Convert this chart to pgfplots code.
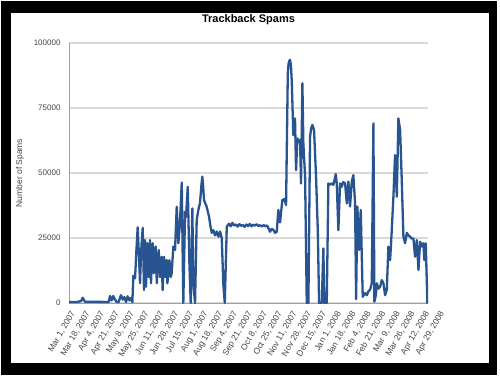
\documentclass[border=0pt]{standalone}
\usepackage{fontspec}
\setmainfont{Liberation Sans}
\usepackage{pgfplots}
\pgfplotsset{compat=1.18}
\definecolor{spamblue}{RGB}{40,84,145}
\definecolor{gridgray}{RGB}{217,217,217}
\definecolor{axisgray}{RGB}{160,160,160}
\definecolor{labelgray}{RGB}{70,70,70}
\begin{document}
\begin{tikzpicture}[x=1bp,y=1bp]
\fill[white] (0,0) rectangle (500,377);
\fill[black] (1,2) rectangle (497,376);
\fill[white] (11,14) rectangle (489,364);
\begin{axis}[at={(69bp,74bp)}, anchor=south west, scale only axis,
  width=359bp, height=260bp, xmin=0, xmax=413, ymin=0, ymax=100000,
  axis lines*=left, axis line style={axisgray, line width=1bp},
  ytick={0,25000,50000,75000,100000}, yticklabels={0,25000,50000,75000,100000},
  scaled y ticks=false, xtick=\empty, major tick length=0pt,
  ymajorgrids, grid style={gridgray, line width=1.2bp},
  yticklabel style={font=\fontsize{8bp}{9bp}\selectfont, text=labelgray, xshift=-5bp},
  /pgf/number format/assume math mode=true,
  title={Trackback Spams},
  title style={at={(axis description cs:0.5,1.065)}, anchor=center, font=\bfseries\fontsize{11bp}{13bp}\selectfont},
  ylabel={Number of Spams},
  ylabel style={at={(axis description cs:-0.1365,0.5)}, anchor=center, font=\fontsize{8.5bp}{10bp}\selectfont, text=labelgray}]
\addplot[spamblue, line width=2.3bp, line join=round, line cap=round] coordinates {
(0,400) (10,400) (14,800) (15.7,2000) (18.4,500) (45.6,400)
(47.2,2700) (49,1000) (51,2700) (52.9,1300) (54.8,400) (57.1,400) (59.8,3000) (61.8,1300) (63.7,2300) (65.6,400) (67.5,2600) (69.5,1000) (71.4,2000) (72.9,300)
(74,10500) (76,9500) (77.5,20000) (79,29100) (80.5,18000) (81.7,7600) (83,20000) (84.8,28900) (86.3,5000) (87.5,24200) (88.6,6300) (90.1,23000) (91.6,10000) (93.2,24200) (94.3,7600) (96.3,23000) (97.8,11500) (99.7,21700) (101,7600) (103.2,20400) (104.8,10000) (106.6,17800) (107.7,5000) (109.3,17800) (110.8,10000) (112.4,16500) (113.2,7600) (115.5,16500) (117,10000) (118.1,11400)
(120,21700) (122,20400) (123.9,37000) (125.8,23000) (127.5,30000) (129.7,46300) (131.5,0) (133.5,35100) (134.6,33000) (136.6,44700) (138.5,15300) (140,0) (141.9,36400) (143,7600) (145,0) (146.9,31900) (148.8,35800) (150.7,38500) (152.5,46000) (153.4,48600) (154.3,45000) (155.3,39600) (158.4,37000) (161.1,33200) (162.5,30000) (164.2,27000) (166,28000) (168,26000) (170,27500) (172,25500) (173.8,27500) (175.7,25000) (177.6,6800) (179.2,0)
(181.5,29300) (184,30500) (186,29500) (188,30800) (190,29800) (192,30200) (194,29400) (196,30300) (198,29700) (200,30000) (202,29300) (204,30200) (206,29600) (208,30400) (210,29500) (212,30100) (214,29800) (216,30300) (218,29600) (220,29900) (222,29400) (224,30000) (226,29500) (228,29800)
(231.3,27400) (233,28500) (235,28200) (237,27000) (239,27400) (240.8,35800) (242.8,31000) (245.4,39600) (247.7,40000) (249.7,37700) (251.7,88300) (252.5,91800) (253.2,93000) (254.3,93500) (255.3,91500) (256.2,85800) (258.1,64600) (260,71000) (261.2,51100) (262.7,63300) (264,62000) (265.8,62700) (266.9,46000) (268.5,84500) (269.6,61400) (271.6,48600) (273.5,0) (275.4,0) (277.3,64000) (278.6,67300) (280,68500) (281.9,66500) (284.2,48600) (286.2,28000) (287.7,0) (290.8,0) (292.6,21000) (293.8,0) (296.5,0)
(298.4,46000) (300,45500) (302.3,46000) (304.1,45400) (306.9,49600) (308,46000) (309.9,28000) (311.8,46000) (313.8,44700) (315.5,46500) (317.6,46000) (319.6,38300) (321.4,46700) (323.3,37100) (325.3,46700) (327.1,49200) (329.1,38300) (330.3,1500) (331.7,37100) (334,20400) (335.6,35800) (337.9,2400)
(340.6,3800) (342.6,3000) (344.5,4500) (346.4,5100) (348.3,7600) (350.2,69100) (351.3,500) (353,3000) (354.1,7600) (356,5500) (357.9,6300) (359.8,8800) (361.7,7600) (363.6,3000) (365.6,5100) (367.4,21700) (369.4,16500) (371.3,28000) (373.2,40900) (375.1,56900) (377.1,40900) (378.9,71000) (380.9,66500) (382.8,47300) (384.7,25500) (386.6,23000) (388.6,27000) (390.5,26000) (392.4,25500) (394.3,24800) (396.2,24800) (398.1,17800) (400.1,24200) (402,12700) (403.9,23600) (405.8,21700) (407.7,23000) (408.8,16500) (410.4,23000) (412.3,0)
};
\end{axis}
\begin{axis}[at={(69bp,74bp)}, anchor=south west, scale only axis,
  width=369.3bp, height=260bp, xmin=0, xmax=425, ymin=0, ymax=1,
  hide y axis, axis x line*=bottom, x axis line style={draw=none},
  xtick={0,17,...,425}, major tick length=0pt,
  xticklabels={{Mar 1, 2007},{Mar 18, 2007},{Apr 4, 2007},{Apr 21, 2007},{May 8, 2007},{May 25, 2007},{Jun 11, 2007},{Jun 28, 2007},{Jul 15, 2007},{Aug 1, 2007},{Aug 18, 2007},{Sep 4, 2007},{Sep 21, 2007},{Oct 8, 2007},{Oct 25, 2007},{Nov 11, 2007},{Nov 28, 2007},{Dec 15, 2007},{Jan 1, 2008},{Jan 18, 2008},{Feb 4, 2008},{Feb 21, 2008},{Mar 9, 2008},{Mar 26, 2008},{Apr 12, 2008},{Apr 29, 2008}},
  xticklabel style={font=\fontsize{8.5bp}{10bp}\selectfont, text=labelgray, xshift=6bp, yshift=-6bp, rotate=60, anchor=east}]
\addplot[draw=none] coordinates {(0,0)};
\end{axis}
\end{tikzpicture}
\end{document}
